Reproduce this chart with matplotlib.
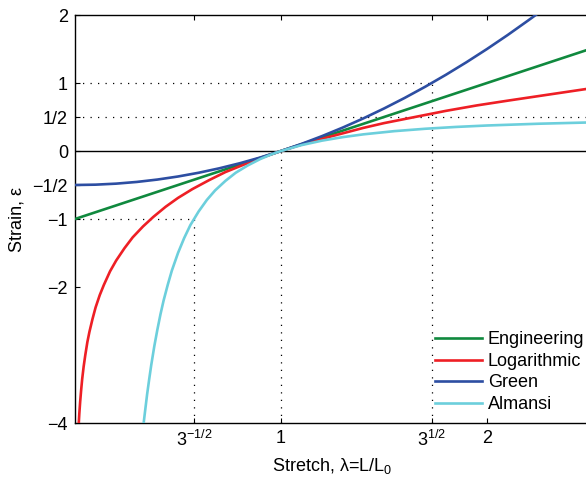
import matplotlib.pyplot as plt
import numpy as np

plt.rcParams['font.family'] = ['Liberation Sans', 'DejaVu Sans']
plt.rcParams['font.size'] = 13
plt.rcParams['mathtext.fontset'] = 'custom'
plt.rcParams['mathtext.rm'] = 'Liberation Sans'
plt.rcParams['mathtext.it'] = 'Liberation Sans:italic'

# stretch / strain values
eng_lam = [0.0, 2.5]
eng_eps = [-1.0, 1.5]

log_lam = [0.0183, 0.021, 0.025, 0.03, 0.035, 0.042, 0.05, 0.06, 0.07, 0.085, 0.1, 0.12,
           0.14, 0.17, 0.2, 0.24, 0.28, 0.33, 0.38, 0.44, 0.5, 0.57, 0.65, 0.73, 0.82,
           0.91, 1.0, 1.1, 1.2, 1.3, 1.4, 1.5, 1.65, 1.8, 1.95, 2.1, 2.3, 2.5]
log_eps = [-4.0, -3.86, -3.69, -3.51, -3.35, -3.17, -3.0, -2.81, -2.66, -2.47, -2.30, -2.12,
           -1.97, -1.77, -1.61, -1.43, -1.27, -1.11, -0.97, -0.82, -0.69, -0.56, -0.43, -0.31, -0.20,
           -0.094, 0.0, 0.095, 0.18, 0.26, 0.34, 0.41, 0.50, 0.59, 0.67, 0.74, 0.83, 0.92]

green_lam = [0.0, 0.1, 0.2, 0.3, 0.4, 0.5, 0.6, 0.7, 0.8, 0.9, 1.0, 1.1,
             1.2, 1.3, 1.4, 1.5, 1.6, 1.7, 1.8, 1.9, 2.0, 2.1, 2.2, 2.25]
green_eps = [-0.5, -0.495, -0.48, -0.455, -0.42, -0.375, -0.32, -0.255, -0.18, -0.095, 0.0, 0.105,
             0.22, 0.345, 0.48, 0.625, 0.78, 0.945, 1.12, 1.305, 1.5, 1.705, 1.92, 2.03]

alm_lam = [0.3333, 0.34, 0.35, 0.36, 0.37, 0.385, 0.4, 0.415, 0.43, 0.45, 0.47, 0.5, 0.53,
           0.56, 0.6, 0.64, 0.68, 0.73, 0.78, 0.84, 0.9, 0.95, 1.0, 1.1, 1.2, 1.3, 1.4,
           1.55, 1.7, 1.85, 2.0, 2.25, 2.5]
alm_eps = [-4.0, -3.83, -3.58, -3.36, -3.15, -2.87, -2.625, -2.40, -2.20, -1.97, -1.76, -1.5, -1.28,
           -1.09, -0.89, -0.72, -0.58, -0.44, -0.32, -0.21, -0.117, -0.054, 0.0, 0.087, 0.153, 0.204, 0.245,
           0.292, 0.327, 0.354, 0.375, 0.401, 0.42]

x_ticks = [3 ** -0.5, 1.0, 3 ** 0.5, 2.0]
x_ticklabels = ['3$^{-1/2}$', '1', '3$^{1/2}$', '2']
y_ticks = [-4, -2, -1, -0.5, 0, 0.5, 1, 2]
y_ticklabels = ['\u22124', '\u22122', '\u22121', '\u22121/2', '0', '1/2', '1', '2']

fig = plt.figure(figsize=(5.86, 4.86), dpi=100)
ax = fig.add_axes([75 / 586, 1 - 423 / 486, 515 / 586, 408 / 486])

# guide lines
dot = dict(color='black', lw=0.9, linestyle=(0, (1, 5)), zorder=1)
ax.plot([0, 3 ** 0.5], [1, 1], **dot)
ax.plot([0, 2.5], [0.5, 0.5], **dot)
ax.plot([0, 3 ** -0.5], [-1, -1], **dot)
ax.plot([3 ** -0.5, 3 ** -0.5], [-4, -1], **dot)
ax.plot([1, 1], [-4, 0], **dot)
ax.plot([3 ** 0.5, 3 ** 0.5], [-4, 1], **dot)
ax.axhline(0, color='black', lw=1.0, zorder=1)

lw = 1.9
style = dict(lw=lw, zorder=3, solid_joinstyle='round')
ax.plot(eng_lam, eng_eps, color='#10893e', label='Engineering', **style)
ax.plot(log_lam, log_eps, color='#ee1f25', label='Logarithmic', **style)
ax.plot(green_lam, green_eps, color='#2d4ea2', label='Green', **style)
ax.plot(alm_lam, alm_eps, color='#6ccfdc', label='Almansi', **style)

ax.set_xlim(0, 2.5)
ax.set_ylim(-4, 2)
ax.set_xticks(x_ticks)
ax.set_xticklabels(x_ticklabels)
ax.set_yticks(y_ticks)
ax.set_yticklabels(y_ticklabels)
ax.tick_params(direction='in', top=True, right=False, length=3.5, width=0.8, pad=5)
ax.spines['right'].set_visible(False)
for s in ['left', 'top', 'bottom']:
    ax.spines[s].set_linewidth(1.0)

ax.set_xlabel('Stretch, \u03bb=L/L$_0$', fontsize=13, labelpad=4)
ax.set_ylabel('Strain, \u03b5', fontsize=13, labelpad=5)

ax.legend(loc='lower right', bbox_to_anchor=(1.01, -0.002), frameon=False,
          handlelength=2.65, handletextpad=0.3, labelspacing=0.25, borderaxespad=0.2)

fig.savefig('out.png', dpi=100)
